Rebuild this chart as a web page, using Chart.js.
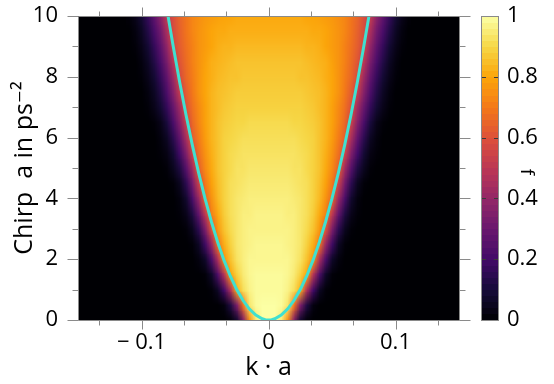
<!DOCTYPE html>
<html>
<head>
<meta charset="utf-8">
<script src="https://cdn.jsdelivr.net/npm/chart.js@4/dist/chart.umd.min.js"></script>
<style>
html,body{margin:0;padding:0;background:#fff;}
#wrap{position:relative;width:554px;height:384px;overflow:hidden;}
#main{position:absolute;left:0;top:0;}
#cbar{position:absolute;left:470px;top:0;}
</style>
</head>
<body>
<div id="wrap">
<canvas id="main" width="554" height="384"></canvas>
<canvas id="cbar" width="84" height="384"></canvas>
</div>
<script>
// ---------- data ----------
// |k| grid (the map is mirror-symmetric in k) and chirp a grid
const kVals = [0,0.005,0.01,0.015,0.02,0.025,0.03,0.035,0.04,0.045,0.05,0.055,0.06,0.065,0.07,0.075,0.08,0.085,0.09,0.095,0.1,0.105,0.11];
const aVals = [0,0.5,1,1.5,2,2.5,3,3.5,4,4.5,5,5.5,6,6.5,7,7.5,8,8.5,9,9.5,10];

// f values along |k| for each chirp a
const f_a00 = [1.00,1.00,0.95,0.75,0.35,0.08,0.01,0,0,0,0,0,0,0,0,0,0,0,0,0,0,0,0];
const f_a05 = [1.00,1.00,0.99,0.94,0.69,0.34,0.12,0.02,0,0,0,0,0,0,0,0,0,0,0,0,0,0,0];
const f_a10 = [0.99,0.99,0.99,0.97,0.92,0.82,0.46,0.20,0.06,0.01,0,0,0,0,0,0,0,0,0,0,0,0,0];
const f_a15 = [0.99,0.99,0.99,0.98,0.95,0.89,0.80,0.48,0.23,0.07,0.01,0,0,0,0,0,0,0,0,0,0,0,0];
const f_a20 = [0.98,0.98,0.98,0.98,0.96,0.93,0.86,0.76,0.46,0.22,0.07,0.02,0,0,0,0,0,0,0,0,0,0,0];
const f_a25 = [0.98,0.98,0.98,0.97,0.96,0.94,0.89,0.82,0.69,0.40,0.19,0.06,0.01,0,0,0,0,0,0,0,0,0,0];
const f_a30 = [0.97,0.97,0.97,0.97,0.96,0.94,0.91,0.86,0.77,0.60,0.34,0.15,0.05,0.01,0,0,0,0,0,0,0,0,0];
const f_a35 = [0.97,0.97,0.97,0.96,0.96,0.94,0.92,0.88,0.81,0.72,0.50,0.28,0.12,0.04,0.01,0,0,0,0,0,0,0,0];
const f_a40 = [0.96,0.96,0.96,0.96,0.95,0.94,0.92,0.89,0.84,0.76,0.66,0.41,0.22,0.08,0.02,0,0,0,0,0,0,0,0];
const f_a45 = [0.95,0.95,0.95,0.95,0.94,0.93,0.92,0.89,0.85,0.79,0.70,0.54,0.32,0.15,0.05,0.01,0,0,0,0,0,0,0];
const f_a50 = [0.94,0.94,0.94,0.94,0.93,0.93,0.91,0.89,0.86,0.81,0.74,0.64,0.43,0.25,0.12,0.05,0.01,0,0,0,0,0,0];
const f_a55 = [0.93,0.93,0.93,0.93,0.93,0.92,0.91,0.89,0.86,0.82,0.76,0.68,0.55,0.35,0.20,0.09,0.03,0.01,0,0,0,0,0];
const f_a60 = [0.92,0.92,0.92,0.92,0.92,0.91,0.90,0.89,0.86,0.83,0.78,0.71,0.63,0.45,0.28,0.15,0.06,0.02,0,0,0,0,0];
const f_a65 = [0.91,0.91,0.91,0.91,0.90,0.90,0.89,0.88,0.86,0.83,0.79,0.73,0.66,0.54,0.36,0.22,0.11,0.04,0.01,0,0,0,0];
const f_a70 = [0.89,0.89,0.89,0.89,0.89,0.89,0.88,0.87,0.85,0.83,0.79,0.74,0.68,0.60,0.43,0.29,0.17,0.09,0.04,0.01,0,0,0];
const f_a75 = [0.88,0.88,0.88,0.88,0.88,0.88,0.87,0.86,0.85,0.83,0.80,0.76,0.70,0.63,0.52,0.36,0.23,0.13,0.06,0.02,0,0,0];
const f_a80 = [0.87,0.87,0.87,0.87,0.87,0.86,0.86,0.85,0.84,0.82,0.80,0.76,0.71,0.66,0.58,0.42,0.28,0.17,0.09,0.04,0.01,0,0];
const f_a85 = [0.86,0.86,0.86,0.86,0.86,0.86,0.85,0.84,0.83,0.82,0.79,0.76,0.72,0.67,0.61,0.49,0.34,0.22,0.13,0.06,0.02,0,0];
const f_a90 = [0.84,0.84,0.84,0.84,0.84,0.84,0.83,0.83,0.82,0.80,0.78,0.76,0.72,0.68,0.63,0.56,0.40,0.27,0.17,0.09,0.04,0.01,0];
const f_a95 = [0.82,0.82,0.82,0.82,0.82,0.82,0.82,0.81,0.81,0.80,0.78,0.76,0.73,0.69,0.64,0.58,0.46,0.32,0.22,0.13,0.06,0.02,0];
const f_a100 = [0.81,0.81,0.81,0.81,0.81,0.81,0.80,0.80,0.79,0.78,0.77,0.75,0.73,0.69,0.65,0.59,0.52,0.38,0.27,0.17,0.09,0.04,0.01];
const fRows = [f_a00,f_a05,f_a10,f_a15,f_a20,f_a25,f_a30,f_a35,f_a40,f_a45,f_a50,f_a55,f_a60,f_a65,f_a70,f_a75,f_a80,f_a85,f_a90,f_a95,f_a100];

// cyan curve
const curveK = [-0.0791,-0.075,-0.07,-0.065,-0.06,-0.055,-0.05,-0.045,-0.04,-0.035,-0.03,-0.025,-0.02,-0.015,-0.01,-0.005,-0.0025,0,0.0025,0.005,0.01,0.015,0.02,0.025,0.03,0.035,0.04,0.045,0.05,0.055,0.06,0.065,0.07,0.075,0.0791];
const curveA = [10,9.0,7.84,6.76,5.76,4.84,4.0,3.24,2.56,1.96,1.44,1.0,0.64,0.36,0.16,0.04,0.01,0,0.01,0.04,0.16,0.36,0.64,1.0,1.44,1.96,2.56,3.24,4.0,4.84,5.76,6.76,7.84,9.0,10];

// ticks
const xMajor = [-0.1,0,0.1];
const xMajorLabels = ['\u2212 0.1','0','0.1'];
const xMinor = [-0.1333,-0.0667,-0.0333,0.0333,0.0667,0.1333];
const yMajor = [0,2,4,6,8,10];
const yMajorLabels = ['0','2','4','6','8','10'];
const yMinor = [1,3,5,7,9];
const cbTicks = [0,0.2,0.4,0.6,0.8,1];
const cbTickLabels = ['0','0.2','0.4','0.6','0.8','1'];

// ---------- styling ----------
const FONT = "'Open Sans', 'DejaVu Sans', sans-serif";
const inferno = ['#000004','#160b39','#420a68','#6a176e','#932667','#bc3754','#dd513a','#f37819','#fca50a','#f6d746','#fcffa4'];
const infRGB = inferno.map(h => [parseInt(h.slice(1,3),16),parseInt(h.slice(3,5),16),parseInt(h.slice(5,7),16)]);
function cmap(v){
  v = Math.max(0, Math.min(1, v));
  const t = v * (infRGB.length - 1);
  const i = Math.min(infRGB.length - 2, Math.floor(t));
  const fr = t - i;
  const c0 = infRGB[i], c1 = infRGB[i+1];
  return [0,1,2].map(j => Math.round(c0[j] + (c1[j]-c0[j])*fr));
}
function cstr(v){ const c = cmap(v); return 'rgb('+c[0]+','+c[1]+','+c[2]+')'; }

const heatPlugin = {
  id: 'heat',
  beforeDatasetsDraw(chart){
    const {ctx, chartArea: ca, scales: {x, y}} = chart;
    const nK = kVals.length;
    const fullK = kVals.slice(1).map(v => -v).reverse().concat(kVals);
    const nC = fullK.length, nR = aVals.length;
    const off = document.createElement('canvas');
    off.width = nC; off.height = nR;
    const octx = off.getContext('2d');
    const img = octx.createImageData(nC, nR);
    for (let r = 0; r < nR; r++){
      const row = fRows[nR - 1 - r];
      for (let c = 0; c < nC; c++){
        const idx = Math.abs(c - (nK - 1));
        const col = cmap(row[idx]);
        const p = (r * nC + c) * 4;
        img.data[p] = col[0]; img.data[p+1] = col[1]; img.data[p+2] = col[2]; img.data[p+3] = 255;
      }
    }
    octx.putImageData(img, 0, 0);
    const dk = kVals[1] - kVals[0], da = aVals[1] - aVals[0];
    const x0 = x.getPixelForValue(fullK[0] - dk/2), x1 = x.getPixelForValue(fullK[nC-1] + dk/2);
    const yT = y.getPixelForValue(aVals[nR-1] + da/2), yB = y.getPixelForValue(aVals[0] - da/2);
    ctx.save();
    ctx.beginPath();
    ctx.rect(ca.left, ca.top, ca.right - ca.left, ca.bottom - ca.top);
    ctx.clip();
    ctx.fillStyle = cstr(0);
    ctx.fillRect(ca.left, ca.top, ca.right - ca.left, ca.bottom - ca.top);
    ctx.imageSmoothingEnabled = true;
    ctx.drawImage(off, x0, yT, x1 - x0, yB - yT);
    ctx.restore();
  }
};

const framePlugin = {
  id: 'frame',
  afterDraw(chart){
    const {ctx, chartArea: ca, scales: {x, y}} = chart;
    const L = Math.round(ca.left) + 0.5, R = Math.round(ca.right) + 0.5;
    const T = Math.round(ca.top) + 0.5, B = Math.round(ca.bottom) + 0.5;
    ctx.save();
    ctx.strokeStyle = '#8a8a8a';
    ctx.lineWidth = 1;
    ctx.beginPath();
    ctx.rect(L, T, R - L, B - T);
    const xt = (v, len) => { const p = Math.round(x.getPixelForValue(v)) + 0.5;
      ctx.moveTo(p, B); ctx.lineTo(p, B + len); ctx.moveTo(p, T); ctx.lineTo(p, T - len); };
    const yt = (v, len) => { const p = Math.round(y.getPixelForValue(v)) + 0.5;
      ctx.moveTo(L, p); ctx.lineTo(L - len, p); ctx.moveTo(R, p); ctx.lineTo(R + len, p); };
    xMajor.forEach(v => xt(v, 9));
    xMinor.forEach(v => xt(v, 5));
    yMajor.forEach(v => yt(v, 11));
    yMinor.forEach(v => yt(v, 6));
    ctx.stroke();
    ctx.restore();
  }
};

new Chart(document.getElementById('main'), {
  type: 'scatter',
  data: {
    datasets: [{
      data: curveK.map((k, i) => ({x: k, y: curveA[i]})),
      showLine: true,
      borderColor: '#40e0d0',
      borderWidth: 3,
      pointRadius: 0,
      fill: false,
      tension: 0
    }]
  },
  options: {
    responsive: false,
    animation: false,
    devicePixelRatio: 1,
    layout: {padding: {top: 16, right: 95, bottom: 0, left: 0}},
    plugins: {legend: {display: false}, tooltip: {enabled: false}},
    scales: {
      x: {
        type: 'linear', min: -0.15, max: 0.15,
        grid: {display: false, drawTicks: false},
        border: {display: false},
        afterBuildTicks: s => { s.ticks = xMajor.map(v => ({value: v})); },
        ticks: {
          callback: v => xMajorLabels[xMajor.indexOf(v)],
          font: {family: FONT, size: 22}, color: '#000', padding: 10,
          maxRotation: 0, autoSkip: false
        },
        title: {display: true, text: 'k \u00b7 a', font: {family: FONT, size: 25}, color: '#000', padding: {top: 0, bottom: 1}},
        afterFit: s => { s.height = 64; }
      },
      y: {
        type: 'linear', min: 0, max: 10,
        grid: {display: false, drawTicks: true, tickLength: 20},
        border: {display: false},
        afterBuildTicks: s => { s.ticks = yMajor.map(v => ({value: v})); },
        ticks: {
          callback: v => yMajorLabels[yMajor.indexOf(v)],
          font: {family: FONT, size: 22}, color: '#000', padding: 0, autoSkip: false
        },
        title: {display: true, text: 'Chirp  a in ps\u207b\u00b2', font: {family: FONT, size: 25}, color: '#000', padding: {top: 10, bottom: 0}},
        afterFit: s => { s.width = 78; }
      }
    }
  },
  plugins: [heatPlugin, framePlugin]
});

const cbPlugin = {
  id: 'cb',
  beforeDatasetsDraw(chart){
    const {ctx, chartArea: ca, scales: {y}} = chart;
    const n = 50;
    ctx.save();
    for (let i = 0; i < n; i++){
      const v0 = i / n, v1 = (i + 1) / n;
      const yt = y.getPixelForValue(v1), yb = y.getPixelForValue(v0);
      ctx.fillStyle = cstr((v0 + v1) / 2);
      ctx.fillRect(ca.left, Math.floor(yt), ca.right - ca.left, Math.ceil(yb) - Math.floor(yt));
    }
    ctx.strokeStyle = '#3a3a3a';
    ctx.lineWidth = 1;
    ctx.beginPath();
    cbTicks.forEach(v => {
      if (v === 0 || v === 1) return;
      const p = Math.round(y.getPixelForValue(v)) + 0.5;
      ctx.moveTo(ca.left, p); ctx.lineTo(ca.left + 5, p);
      ctx.moveTo(ca.right, p); ctx.lineTo(ca.right - 5, p);
    });
    ctx.stroke();
    ctx.strokeStyle = '#8a8a8a';
    ctx.strokeRect(Math.round(ca.left) + 0.5, Math.round(ca.top) + 0.5, Math.round(ca.right - ca.left) - 1, Math.round(ca.bottom - ca.top));
    ctx.restore();
  },
  afterDraw(chart){
    const {ctx} = chart;
    ctx.save();
    ctx.translate(56, 172);
    ctx.rotate(Math.PI / 2);
    ctx.font = '19px ' + FONT;
    ctx.fillStyle = '#000';
    ctx.textAlign = 'center';
    ctx.textBaseline = 'middle';
    ctx.fillText('f', 0, 0);
    ctx.restore();
  }
};

new Chart(document.getElementById('cbar'), {
  type: 'scatter',
  data: {datasets: []},
  options: {
    responsive: false,
    animation: false,
    devicePixelRatio: 1,
    layout: {padding: {top: 16, right: 0, bottom: 64, left: 11}},
    plugins: {legend: {display: false}, tooltip: {enabled: false}},
    scales: {
      x: {display: false, min: 0, max: 1},
      y: {
        position: 'right', min: 0, max: 1,
        grid: {display: false, drawTicks: true, tickLength: 8},
        border: {display: false},
        afterBuildTicks: s => { s.ticks = cbTicks.map(v => ({value: v})); },
        ticks: {
          callback: v => cbTickLabels[cbTicks.indexOf(v)],
          font: {family: FONT, size: 22}, color: '#000', padding: 0, autoSkip: false
        },
        afterFit: s => { s.width = 55; }
      }
    }
  },
  plugins: [cbPlugin]
});
</script>
</body>
</html>
